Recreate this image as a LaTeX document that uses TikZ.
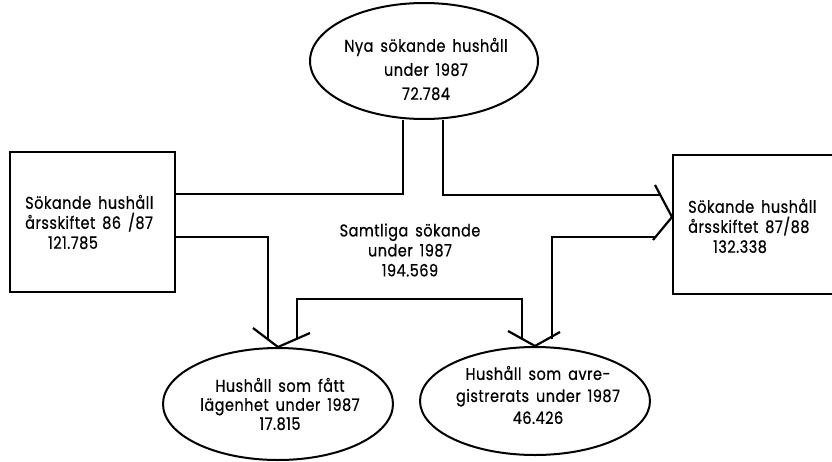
\documentclass[tikz,border=0pt]{standalone}
\usepackage{fontspec}
\setmainfont{Poppins}[FakeStretch=0.85,FakeBold=0.6,LetterSpace=3,WordSpace=1.6]
\usetikzlibrary{shapes.geometric,calc}
\begin{document}
\begin{tikzpicture}[x=1pt,y=-1pt,
  flow/.style={line width=2.2pt,line join=miter},
  shapeline/.style={draw,line width=2pt,inner sep=0pt},
  oval/.style={shapeline,ellipse},
  boxx/.style={shapeline,rectangle},
  txt/.style={font=\fontsize{17}{20}\selectfont,inner sep=0pt}]
\clip (0,0) rectangle (832,461);
\fill[white] (0,0) rectangle (832,461);
% shapes
\node[oval,minimum width=228pt,minimum height=116pt] (T) at (424,61) {};
\node[boxx,minimum width=165pt,minimum height=140pt] (L) at (92.5,222) {};
\node[boxx,minimum width=162pt,minimum height=139pt] (R) at (754,224.5) {};
\node[oval,minimum width=230pt,minimum height=112pt] (BL) at (278,404) {};
\node[oval,minimum width=230pt,minimum height=108pt] (BR) at (535,401) {};
% texts
\node[txt,align=center,font=\fontsize{17}{24}\selectfont] (tT) at (426,69) {Nya sökande hushåll\\under 1987\\72.784};
\node[txt,align=left,anchor=west] (tL) at (25,222) {Sökande hushåll\\årsskiftet 86 /87\\\hspace*{23pt}121.785};
\node[txt,align=left,anchor=west] (tR) at (688,226) {Sökande hushåll\\årsskiftet 87/88\\\hspace*{25pt}132.338};
\node[txt,align=center] (tC) at (410,250) {Samtliga sökande\\under 1987\\194.569};
\node[txt,align=center,font=\fontsize{17}{19}\selectfont] (tBL) at (280,404) {Hushåll som fått\\lägenhet under 1987\\17.815};
\node[txt,align=center,font=\fontsize{17}{22}\selectfont] (tBR) at (538,395) {Hushåll som avre-\\gistrerats under 1987\\46.426};
% arrow tips
\coordinate (tipR) at (R.west |- 0,217);
\coordinate (tipBL) at (BL.north);
\coordinate (tipBR) at (BR.north);
\coordinate (rU) at ($(tipR)+(-17,-32)$);
\coordinate (rD) at ($(tipR)+(-19,23)$);
\coordinate (blL) at ($(tipBL)+(-25,-19)$);
\coordinate (blR) at ($(tipBL)+(32,-14)$);
\coordinate (brL) at ($(tipBR)+(-27,-15)$);
\coordinate (brR) at ($(tipBR)+(25,-14)$);
\draw[flow] (rU) -- (tipR) -- (rD);
\draw[flow] (blL) -- (tipBL) -- (blR);
\draw[flow] (brL) -- (tipBR) -- (brR);
% joints on arms
\coordinate (jRU) at (660,195);
\coordinate (jRD) at (656,237);
\coordinate (jBL1) at (268,339);
\coordinate (jBL2) at (297,339);
\coordinate (jBR1) at (522,339);
\coordinate (jBR2) at (552,339);
% connectors
\draw[flow] ([xshift=-21pt]T.south) |- (L.east |- 0,194);
\draw[flow] ([xshift=19pt]T.south) |- (jRU);
\draw[flow] (L.east |- 0,237) -| (jBL1);
\draw[flow] (jBL2) |- (jBR1 |- 0,299) -- (jBR1);
\draw[flow] (jBR2) |- (jRD);
\end{tikzpicture}
\end{document}
